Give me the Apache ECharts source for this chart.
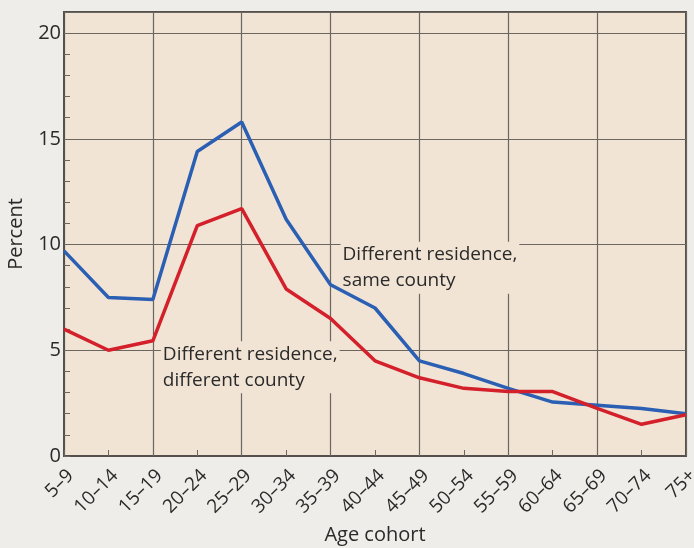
<!DOCTYPE html>
<html>
<head>
<meta charset="utf-8">
<script src="https://cdn.jsdelivr.net/npm/echarts@6/dist/echarts.min.js"></script>
<style>
  html, body { margin: 0; padding: 0; background: #eeedea; }
  #chart { width: 694px; height: 548px; }
</style>
</head>
<body>
<div id="chart"></div>
<script>
const ageCohorts = ['5–9', '10–14', '15–19', '20–24', '25–29', '30–34', '35–39', '40–44',
                    '45–49', '50–54', '55–59', '60–64', '65–69', '70–74', '75+'];
// 同县内迁居
const sameCounty = [9.7, 7.5, 7.4, 14.4, 15.8, 11.2, 8.1, 7.0, 4.5, 3.9, 3.2, 2.55, 2.4, 2.25, 2.0];
// 跨县迁居
const diffCounty = [6.0, 5.0, 5.45, 10.9, 11.7, 7.9, 6.5, 4.5, 3.7, 3.2, 3.05, 3.05, 2.25, 1.5, 1.95];

const chart = echarts.init(document.getElementById('chart'));
const fontFam = '"Open Sans", Lato, sans-serif';
const gridColor = '#6b6660';
const plotBg = '#f1e4d5';

const labelStyle = {
    show: true,
    position: 'right',
    distance: 0,
    align: 'left',
    fontFamily: fontFam,
    fontSize: 19,
    lineHeight: 26,
    color: '#2a2a2a',
    backgroundColor: plotBg,
    padding: [0, 2, 0, 2]
};

chart.setOption({
    animation: false,
    backgroundColor: '#eeedea',
    grid: {
        left: 64, right: 8, top: 12, bottom: 92,
        outerBoundsMode: 'none',
        containLabel: false,
        show: true,
        backgroundColor: plotBg,
        borderColor: '#55504b',
        borderWidth: 2
    },
    xAxis: {
        type: 'category',
        data: ageCohorts,
        boundaryGap: false,
        name: 'Age cohort',
        nameLocation: 'middle',
        nameGap: 69,
        nameTextStyle: { fontFamily: fontFam, fontSize: 20, color: '#2a2a2a' },
        axisLine: { lineStyle: { color: '#55504b', width: 2 } },
        axisTick: { inside: true, length: 6, interval: 0, lineStyle: { color: gridColor } },
        axisLabel: {
            interval: 0, rotate: 45, margin: 10, verticalAlign: 'top',
            fontFamily: fontFam, fontSize: 19, color: '#2a2a2a'
        },
        splitLine: { show: true, interval: 1, lineStyle: { color: gridColor, width: 1.2 } }
    },
    yAxis: [{
        type: 'value',
        min: 0, max: 21, interval: 5,
        name: 'Percent',
        nameLocation: 'middle',
        nameGap: 38,
        nameTextStyle: { fontFamily: fontFam, fontSize: 20, color: '#2a2a2a' },
        axisLine: { show: true, lineStyle: { color: '#55504b', width: 2 } },
        axisTick: { show: false },
        axisLabel: { showMaxLabel: false, margin: 3, fontFamily: fontFam, fontSize: 20, color: '#2a2a2a' },
        splitLine: { show: true, lineStyle: { color: gridColor, width: 1.2 } }
    }, {
        // 每 1 个单位的小刻度
        type: 'value',
        min: 0, max: 21, interval: 1,
        position: 'left',
        axisLine: { show: false },
        axisTick: { show: true, inside: true, length: 6, lineStyle: { color: gridColor } },
        axisLabel: { show: false },
        splitLine: { show: false }
    }],
    series: [{
        name: 'Different residence, same county',
        type: 'line',
        data: sameCounty,
        symbol: 'none',
        lineStyle: { color: '#2b5fb3', width: 3.5 },
        z: 3,
        markPoint: {
            z: 1,
            symbol: 'circle', symbolSize: 0,
            data: [{ coord: ['35–39', 8.9], label: Object.assign({}, labelStyle, {
                offset: [10, 0],
                formatter: 'Different residence,\nsame county'
            }) }]
        }
    }, {
        name: 'Different residence, different county',
        type: 'line',
        data: diffCounty,
        symbol: 'none',
        lineStyle: { color: '#d4202b', width: 3.5 },
        z: 4,
        markPoint: {
            z: 1,
            symbol: 'circle', symbolSize: 0,
            data: [{ coord: ['15–19', 4.2], label: Object.assign({}, labelStyle, {
                offset: [8, 0],
                formatter: 'Different residence,\ndifferent county'
            }) }]
        }
    }]
});

window.addEventListener('resize', () => chart.resize());
</script>
</body>
</html>
